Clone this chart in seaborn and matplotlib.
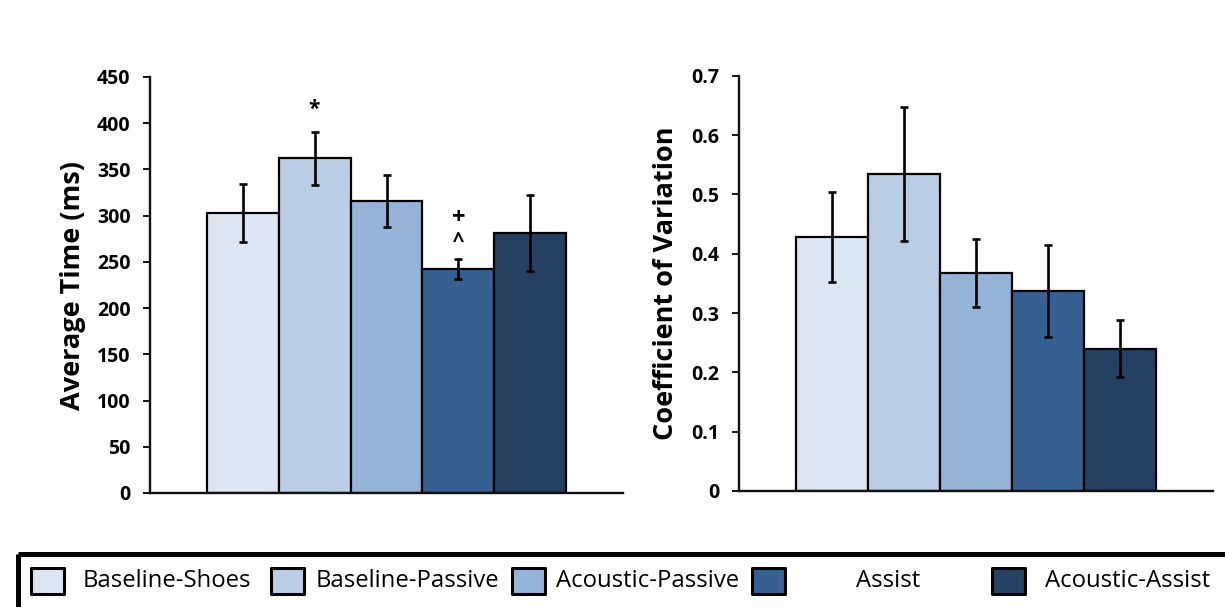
import matplotlib
matplotlib.use("Agg")
import matplotlib.pyplot as plt
from matplotlib.patches import Rectangle
import numpy as np
import pandas as pd
import seaborn as sns

# Conditions and their fill colours
conditions = ["Baseline-Shoes", "Baseline-Passive", "Acoustic-Passive", "Assist", "Acoustic-Assist"]
colors = ["#DCE6F2", "#B9CDE5", "#95B3D7", "#376092", "#254061"]

# Average time (ms) with error half-widths
avg_time = [303, 362, 316, 242, 281]
avg_time_err = [31, 29, 28, 11, 41]

# Coefficient of variation with error half-widths
cov = [0.428, 0.535, 0.367, 0.337, 0.240]
cov_err = [0.076, 0.113, 0.057, 0.078, 0.048]

# Significance markers: (condition index, symbol, height in data units)
time_marks = [(1, "*", 415), (3, "+", 298), (3, "^", 272)]

time_ticks = [0, 50, 100, 150, 200, 250, 300, 350, 400, 450]
cov_ticks = [0, 0.1, 0.2, 0.3, 0.4, 0.5, 0.6, 0.7]
cov_tick_labels = ["0", "0.1", "0.2", "0.3", "0.4", "0.5", "0.6", "0.7"]

sns.set_style("white")
plt.rcParams["font.family"] = ["Open Sans", "DejaVu Sans"]
plt.rcParams["text.color"] = "black"
plt.rcParams["axes.labelcolor"] = "black"
plt.rcParams["ytick.color"] = "black"
plt.rcParams["xtick.color"] = "black"

df = pd.DataFrame({
    "group": [""] * len(conditions),
    "condition": conditions,
    "time": avg_time,
    "cov": cov,
})

fig = plt.figure(figsize=(12.25, 6.07), dpi=100)
W, H = 1225, 607
ax1 = fig.add_axes([150 / W, 1 - 493 / H, 473 / W, 416 / H])
ax2 = fig.add_axes([739 / W, 1 - 491 / H, 474 / W, 415.3 / H])


def draw_panel(ax, col, errs, ylim, ticks, labels, ylabel, label_x):
    sns.barplot(data=df, x="group", y=col, hue="condition", hue_order=conditions,
                palette=colors, saturation=1, width=0.761, gap=0, dodge=True,
                errorbar=None, edgecolor="black", linewidth=1.6, legend=False, ax=ax)
    bars = [p for p in ax.patches if isinstance(p, Rectangle)][:len(conditions)]
    centers = [b.get_x() + b.get_width() / 2 for b in bars]
    heights = [b.get_height() for b in bars]
    ax.errorbar(centers, heights, yerr=errs, fmt="none", ecolor="black",
                elinewidth=1.9, capsize=3, capthick=1.9, zorder=5)
    ax.set_xlim(-0.5, 0.5)
    ax.set_ylim(*ylim)
    ax.set_yticks(ticks)
    ax.set_yticklabels(labels, fontsize=14, fontweight="bold", color="black")
    ax.set_xticks([])
    ax.set_xlabel("")
    ax.set_ylabel(ylabel, fontsize=19.5, fontweight="bold", va="center", color="black")
    ax.yaxis.set_label_coords(label_x, 0.5)
    for side in ["top", "right"]:
        ax.spines[side].set_visible(False)
    for side in ["left", "bottom"]:
        ax.spines[side].set_linewidth(1.7)
        ax.spines[side].set_color("#111111")
    ax.tick_params(axis="y", direction="out", length=5, width=1.4, pad=9,
                   left=True, color="#111111")
    return centers


c1 = draw_panel(ax1, "time", avg_time_err, (0, 450), time_ticks,
                [str(t) for t in time_ticks], "Average Time (ms)", -0.163)
for idx, sym, yv in time_marks:
    size = 17 if sym == "+" else 15
    ax1.text(c1[idx], yv, sym, ha="center", va="center", fontsize=size, fontweight="bold")

draw_panel(ax2, "cov", cov_err, (0, 0.7), cov_ticks, cov_tick_labels,
           "Coefficient of Variation", -0.154)

# Legend strip along the bottom, laid out in fixed-width slots
lax = fig.add_axes([0, 0, 1, 1], zorder=-1)
lax.set_xlim(0, W)
lax.set_ylim(H, 0)
lax.axis("off")
lax.add_patch(Rectangle((17.5, 553.5), 1400, 200, fill=False, lw=3.6, ec="black"))
slot = 240.25
for i, (name, colr) in enumerate(zip(conditions, colors)):
    x0 = 31 + slot * i
    lax.add_patch(Rectangle((x0, 568), 33, 26, facecolor=colr, edgecolor="black",
                            lw=2.2, joinstyle="round"))
    lax.text(x0 + 136, 581, name, ha="center", va="center", fontsize=17.2)

fig.savefig("out.png", dpi=100)
